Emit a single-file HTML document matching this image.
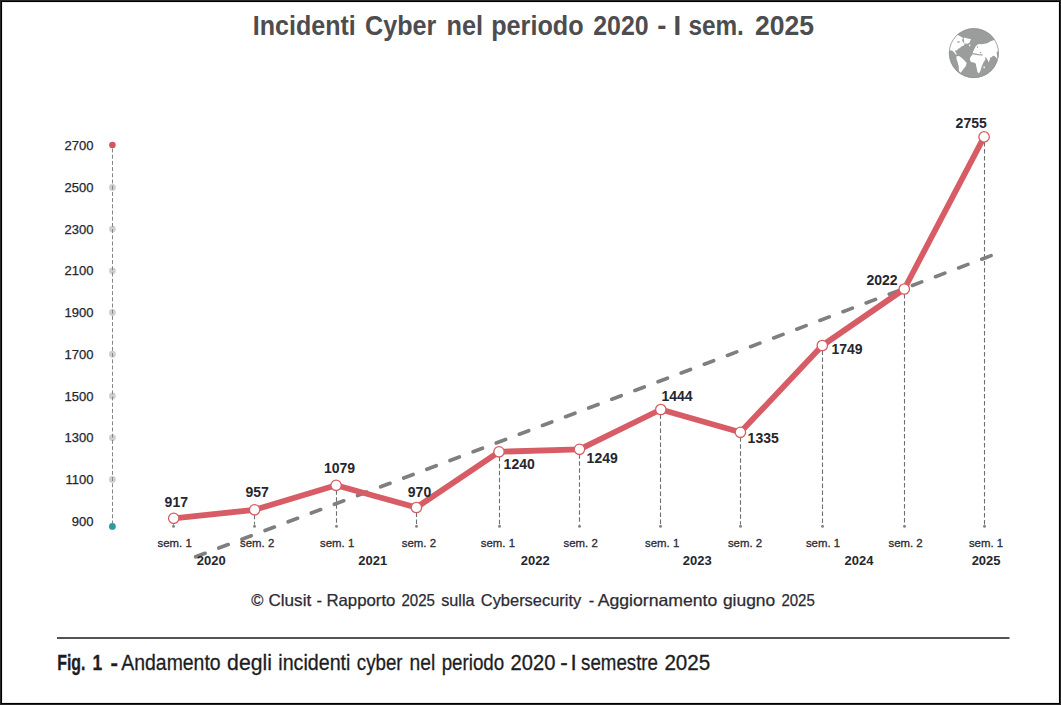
<!DOCTYPE html>
<html lang="it"><head><meta charset="utf-8"><title>Incidenti Cyber nel periodo 2020 - I sem. 2025</title>
<style>html,body{margin:0;padding:0;background:#fff}body{width:1061px;height:705px;overflow:hidden}svg{display:block}text{font-family:"Liberation Sans",Arial,sans-serif}</style></head><body>
<svg width="1061" height="705" viewBox="0 0 1061 705">
<rect x="0" y="0" width="1061" height="705" fill="#fff"/>
<rect x="2.5" y="2.5" width="1056" height="700" fill="none" stroke="#ececec" stroke-width="1"/>
<rect x="1.5" y="1.5" width="1058" height="702" fill="none" stroke="#000" stroke-width="1"/>
<rect x="0.5" y="0.5" width="1060" height="704" fill="none" stroke="#262626" stroke-width="1"/>
<text y="35.3" font-size="27.5" fill="#4d4d4f" font-weight="bold"><tspan x="252.8" textLength="103.0" lengthAdjust="spacingAndGlyphs">Incidenti</tspan> <tspan x="365.1" textLength="71.3" lengthAdjust="spacingAndGlyphs">Cyber</tspan> <tspan x="446.5" textLength="36.5" lengthAdjust="spacingAndGlyphs">nel</tspan> <tspan x="491.2" textLength="92.4" lengthAdjust="spacingAndGlyphs">periodo</tspan> <tspan x="593.2" textLength="55.4" lengthAdjust="spacingAndGlyphs">2020</tspan> <tspan x="657.3">-</tspan> <tspan x="673.6">I</tspan> <tspan x="688.4" textLength="55.5" lengthAdjust="spacingAndGlyphs">sem.</tspan> <tspan x="754.9" textLength="59.1" lengthAdjust="spacingAndGlyphs">2025</tspan></text>
<g id="globe"><defs><clipPath id="gc"><circle cx="362.5" cy="353.5" r="291"/></clipPath></defs>
<g transform="translate(943,23) scale(0.085106)">
<circle cx="362.5" cy="353.5" r="292" fill="#9b9c9c"/>
<g clip-path="url(#gc)" fill="#fff">
<path d="M60,140 L175,140 L208,158 L238,180 L222,200 L236,225 L256,250 L240,268 L220,272 L205,288 L188,300 L172,306 L166,326 L152,318 L141,328 L152,350 L166,372 L150,370 L126,342 L106,322 L60,325 Z"/>
<path d="M243,170 L330,190 L310,232 L288,244 L249,242 Z"/>
<circle cx="314" cy="263" r="9"/>
<path d="M160,388 L195,392 L225,415 L255,445 L278,470 L268,505 L240,540 L215,575 L200,585 L188,560 L185,510 L172,460 L158,420 Z"/>
<path d="M350,345 L365,310 L383,275 L400,258 L419,246 L455,250 L520,238 L560,215 L610,198 L700,190 L700,440 L640,430 L625,405 L605,388 L587,385 L572,402 L557,402 L548,435 L538,465 L525,435 L510,410 L490,400 L500,425 L475,465 L455,510 L440,560 L422,592 L405,575 L395,530 L385,480 L365,465 L335,462 L318,440 L315,415 L330,390 L350,368 Z"/>
<ellipse cx="483" cy="520" rx="7" ry="15"/>
</g>
<g clip-path="url(#gc)" fill="#9b9c9c" stroke="none">
<ellipse cx="182" cy="224" rx="17" ry="9"/>
<path d="M350,352 L385,358 L420,368 L460,368 L472,378 L455,382 L415,380 L380,372 L352,366 Z"/>
<ellipse cx="442" cy="348" rx="10" ry="6"/>
<ellipse cx="405" cy="283" rx="7" ry="10"/>
<path d="M630,340 L660,330 L660,420 L640,415 Z"/>
</g>
<circle cx="362.5" cy="353.5" r="289" fill="none" stroke="#8b8c8c" stroke-width="8"/>
</g></g>
<text x="93.5" y="149.8" font-size="13" text-anchor="end" fill="#25252d" stroke="#25252d" stroke-width="0.25">2700</text>
<circle cx="112.4" cy="145" r="3.3" fill="#d45560"/>
<text x="93.5" y="192.0" font-size="13" text-anchor="end" fill="#25252d" stroke="#25252d" stroke-width="0.25">2500</text>
<circle cx="112.4" cy="187.4" r="3.4" fill="#cfcfcf"/>
<text x="93.5" y="233.7" font-size="13" text-anchor="end" fill="#25252d" stroke="#25252d" stroke-width="0.25">2300</text>
<circle cx="112.4" cy="229.1" r="3.4" fill="#cfcfcf"/>
<text x="93.5" y="275.4" font-size="13" text-anchor="end" fill="#25252d" stroke="#25252d" stroke-width="0.25">2100</text>
<circle cx="112.4" cy="270.8" r="3.4" fill="#cfcfcf"/>
<text x="93.5" y="317.1" font-size="13" text-anchor="end" fill="#25252d" stroke="#25252d" stroke-width="0.25">1900</text>
<circle cx="112.4" cy="312.5" r="3.4" fill="#cfcfcf"/>
<text x="93.5" y="358.9" font-size="13" text-anchor="end" fill="#25252d" stroke="#25252d" stroke-width="0.25">1700</text>
<circle cx="112.4" cy="354.2" r="3.4" fill="#cfcfcf"/>
<text x="93.5" y="400.6" font-size="13" text-anchor="end" fill="#25252d" stroke="#25252d" stroke-width="0.25">1500</text>
<circle cx="112.4" cy="396.0" r="3.4" fill="#cfcfcf"/>
<text x="93.5" y="442.3" font-size="13" text-anchor="end" fill="#25252d" stroke="#25252d" stroke-width="0.25">1300</text>
<circle cx="112.4" cy="437.7" r="3.4" fill="#cfcfcf"/>
<text x="93.5" y="484.0" font-size="13" text-anchor="end" fill="#25252d" stroke="#25252d" stroke-width="0.25">1100</text>
<circle cx="112.4" cy="479.4" r="3.4" fill="#cfcfcf"/>
<text x="93.5" y="525.7" font-size="13" text-anchor="end" fill="#25252d" stroke="#25252d" stroke-width="0.25">900</text>
<circle cx="112.4" cy="526.4" r="3.4" fill="#2d9aa6"/>
<line x1="112.5" y1="148.5" x2="112.5" y2="523" stroke="#858585" stroke-width="1" stroke-dasharray="4 2.2"/>
<line x1="173.5" y1="523.3" x2="173.5" y2="524.5" stroke="#6e6e6e" stroke-width="1.1" stroke-dasharray="4.5 2.5"/>
<circle cx="173.5" cy="526.3" r="1.5" fill="#858585"/>
<line x1="254.5" y1="514.8" x2="254.5" y2="524.5" stroke="#6e6e6e" stroke-width="1.1" stroke-dasharray="4.5 2.5"/>
<circle cx="254.5" cy="526.3" r="1.5" fill="#858585"/>
<line x1="336.5" y1="490.3" x2="336.5" y2="524.5" stroke="#6e6e6e" stroke-width="1.1" stroke-dasharray="4.5 2.5"/>
<circle cx="336.5" cy="526.3" r="1.5" fill="#858585"/>
<line x1="416.5" y1="512.5" x2="416.5" y2="524.5" stroke="#6e6e6e" stroke-width="1.1" stroke-dasharray="4.5 2.5"/>
<circle cx="416.5" cy="526.3" r="1.5" fill="#858585"/>
<line x1="499.5" y1="456.8" x2="499.5" y2="524.5" stroke="#6e6e6e" stroke-width="1.1" stroke-dasharray="4.5 2.5"/>
<circle cx="499.5" cy="526.3" r="1.5" fill="#858585"/>
<line x1="579.5" y1="454.3" x2="579.5" y2="524.5" stroke="#6e6e6e" stroke-width="1.1" stroke-dasharray="4.5 2.5"/>
<circle cx="579.5" cy="526.3" r="1.5" fill="#858585"/>
<line x1="660.5" y1="414.5" x2="660.5" y2="524.5" stroke="#6e6e6e" stroke-width="1.1" stroke-dasharray="4.5 2.5"/>
<circle cx="660.5" cy="526.3" r="1.5" fill="#858585"/>
<line x1="740.5" y1="437.3" x2="740.5" y2="524.5" stroke="#6e6e6e" stroke-width="1.1" stroke-dasharray="4.5 2.5"/>
<circle cx="740.5" cy="526.3" r="1.5" fill="#858585"/>
<line x1="822.5" y1="350.5" x2="822.5" y2="524.5" stroke="#6e6e6e" stroke-width="1.1" stroke-dasharray="4.5 2.5"/>
<circle cx="822.5" cy="526.3" r="1.5" fill="#858585"/>
<line x1="904.5" y1="294.0" x2="904.5" y2="524.5" stroke="#6e6e6e" stroke-width="1.1" stroke-dasharray="4.5 2.5"/>
<circle cx="904.5" cy="526.3" r="1.5" fill="#858585"/>
<line x1="984.5" y1="141.9" x2="984.5" y2="524.5" stroke="#6e6e6e" stroke-width="1.1" stroke-dasharray="4.5 2.5"/>
<circle cx="984.5" cy="526.3" r="1.5" fill="#858585"/>
<line x1="195.7" y1="556.8" x2="991.5" y2="255.5" stroke="#7f7f7f" stroke-width="3.6" stroke-linecap="round" stroke-dasharray="10 14.72"/>
<polyline points="173.7,518.3 254.6,509.8 336.1,485.3 416.4,507.5 499.0,451.8 579.5,449.3 660.8,409.5 740.4,432.3 822.3,345.5 904.3,289.0 984.1,136.9" fill="none" stroke="#d75c65" stroke-width="5.8" stroke-linejoin="round" stroke-linecap="round"/>
<circle cx="173.7" cy="518.3" r="5.2" fill="#fff" stroke="#d75c65" stroke-width="1.3"/>
<circle cx="254.6" cy="509.8" r="5.2" fill="#fff" stroke="#d75c65" stroke-width="1.3"/>
<circle cx="336.1" cy="485.3" r="5.2" fill="#fff" stroke="#d75c65" stroke-width="1.3"/>
<circle cx="416.4" cy="507.5" r="5.2" fill="#fff" stroke="#d75c65" stroke-width="1.3"/>
<circle cx="499.0" cy="451.8" r="5.2" fill="#fff" stroke="#d75c65" stroke-width="1.3"/>
<circle cx="579.5" cy="449.3" r="5.2" fill="#fff" stroke="#d75c65" stroke-width="1.3"/>
<circle cx="660.8" cy="409.5" r="5.2" fill="#fff" stroke="#d75c65" stroke-width="1.3"/>
<circle cx="740.4" cy="432.3" r="5.2" fill="#fff" stroke="#d75c65" stroke-width="1.3"/>
<circle cx="822.3" cy="345.5" r="5.2" fill="#fff" stroke="#d75c65" stroke-width="1.3"/>
<circle cx="904.3" cy="289.0" r="5.2" fill="#fff" stroke="#d75c65" stroke-width="1.3"/>
<circle cx="984.1" cy="136.9" r="5.2" fill="#fff" stroke="#d75c65" stroke-width="1.3"/>
<text x="176.3" y="506.5" font-size="14" font-weight="bold" text-anchor="middle" fill="#26262e">917</text>
<text x="257.2" y="497.4" font-size="14" font-weight="bold" text-anchor="middle" fill="#26262e">957</text>
<text x="339.6" y="473.3" font-size="14" font-weight="bold" text-anchor="middle" fill="#26262e">1079</text>
<text x="419.5" y="496.8" font-size="14" font-weight="bold" text-anchor="middle" fill="#26262e">970</text>
<text x="503.6" y="469.4" font-size="14" font-weight="bold" text-anchor="start" fill="#26262e">1240</text>
<text x="586.6" y="463.3" font-size="14" font-weight="bold" text-anchor="start" fill="#26262e">1249</text>
<text x="661.5" y="401.0" font-size="14" font-weight="bold" text-anchor="start" fill="#26262e">1444</text>
<text x="747.6" y="442.9" font-size="14" font-weight="bold" text-anchor="start" fill="#26262e">1335</text>
<text x="831.5" y="354.0" font-size="14" font-weight="bold" text-anchor="start" fill="#26262e">1749</text>
<text x="897.6" y="285.0" font-size="14" font-weight="bold" text-anchor="end" fill="#26262e">2022</text>
<text x="971.2" y="127.9" font-size="14" font-weight="bold" text-anchor="middle" fill="#26262e">2755</text>
<text x="174.7" y="547.3" font-size="11.4" text-anchor="middle" fill="#2b2b33" stroke="#2b2b33" stroke-width="0.3">sem. 1</text>
<text x="257.2" y="547.3" font-size="11.4" text-anchor="middle" fill="#2b2b33" stroke="#2b2b33" stroke-width="0.3">sem. 2</text>
<text x="337.2" y="547.3" font-size="11.4" text-anchor="middle" fill="#2b2b33" stroke="#2b2b33" stroke-width="0.3">sem. 1</text>
<text x="418.9" y="547.3" font-size="11.4" text-anchor="middle" fill="#2b2b33" stroke="#2b2b33" stroke-width="0.3">sem. 2</text>
<text x="497.9" y="547.3" font-size="11.4" text-anchor="middle" fill="#2b2b33" stroke="#2b2b33" stroke-width="0.3">sem. 1</text>
<text x="580.7" y="547.3" font-size="11.4" text-anchor="middle" fill="#2b2b33" stroke="#2b2b33" stroke-width="0.3">sem. 2</text>
<text x="662.2" y="547.3" font-size="11.4" text-anchor="middle" fill="#2b2b33" stroke="#2b2b33" stroke-width="0.3">sem. 1</text>
<text x="745.0" y="547.3" font-size="11.4" text-anchor="middle" fill="#2b2b33" stroke="#2b2b33" stroke-width="0.3">sem. 2</text>
<text x="823.0" y="547.3" font-size="11.4" text-anchor="middle" fill="#2b2b33" stroke="#2b2b33" stroke-width="0.3">sem. 1</text>
<text x="905.6" y="547.3" font-size="11.4" text-anchor="middle" fill="#2b2b33" stroke="#2b2b33" stroke-width="0.3">sem. 2</text>
<text x="986.0" y="547.3" font-size="11.4" text-anchor="middle" fill="#2b2b33" stroke="#2b2b33" stroke-width="0.3">sem. 1</text>
<text x="211.3" y="565.0" font-size="13" font-weight="bold" text-anchor="middle" fill="#26262e">2020</text>
<text x="372.7" y="565.0" font-size="13" font-weight="bold" text-anchor="middle" fill="#26262e">2021</text>
<text x="535.3" y="565.0" font-size="13" font-weight="bold" text-anchor="middle" fill="#26262e">2022</text>
<text x="697.3" y="565.0" font-size="13" font-weight="bold" text-anchor="middle" fill="#26262e">2023</text>
<text x="858.9" y="565.0" font-size="13" font-weight="bold" text-anchor="middle" fill="#26262e">2024</text>
<text x="986.1" y="565.0" font-size="13" font-weight="bold" text-anchor="middle" fill="#26262e">2025</text>
<text y="605.5" font-size="16.5" fill="#2b2b33" stroke="#2b2b33" stroke-width="0.25"><tspan x="251.2">©</tspan> <tspan x="268.4" textLength="42.8" lengthAdjust="spacingAndGlyphs">Clusit</tspan> <tspan x="316.6">-</tspan> <tspan x="326.4" textLength="69.0" lengthAdjust="spacingAndGlyphs">Rapporto</tspan> <tspan x="401.5" textLength="33.5" lengthAdjust="spacingAndGlyphs">2025</tspan> <tspan x="441.2" textLength="33.4" lengthAdjust="spacingAndGlyphs">sulla</tspan> <tspan x="480.8" textLength="100.4" lengthAdjust="spacingAndGlyphs">Cybersecurity</tspan> <tspan x="588.8">-</tspan> <tspan x="597.7" textLength="119.6" lengthAdjust="spacingAndGlyphs">Aggiornamento</tspan> <tspan x="722.9" textLength="52.3" lengthAdjust="spacingAndGlyphs">giugno</tspan> <tspan x="781.4" textLength="33.4" lengthAdjust="spacingAndGlyphs">2025</tspan></text>
<line x1="57" y1="638" x2="1009.5" y2="638" stroke="#1a1a1a" stroke-width="1.3"/>
<text y="669.6" font-size="22.4" fill="#1d1d1f" stroke="#1d1d1f" stroke-width="0.3"><tspan x="57.2" textLength="28.2" lengthAdjust="spacingAndGlyphs" font-weight="bold">Fig.</tspan> <tspan x="92.4" textLength="9.7" lengthAdjust="spacingAndGlyphs" font-weight="bold">1</tspan> <tspan x="110.4" font-weight="bold">-</tspan> <tspan x="121.3" textLength="99.3" lengthAdjust="spacingAndGlyphs">Andamento</tspan> <tspan x="227.1" textLength="44.8" lengthAdjust="spacingAndGlyphs">degli</tspan> <tspan x="278.3" textLength="72.1" lengthAdjust="spacingAndGlyphs">incidenti</tspan> <tspan x="356.8" textLength="45.8" lengthAdjust="spacingAndGlyphs">cyber</tspan> <tspan x="409.6" textLength="25.7" lengthAdjust="spacingAndGlyphs">nel</tspan> <tspan x="441.7" textLength="62.5" lengthAdjust="spacingAndGlyphs">periodo</tspan> <tspan x="510.6" textLength="44.8" lengthAdjust="spacingAndGlyphs">2020</tspan> <tspan x="560.2">-</tspan> <tspan x="570.4">I</tspan> <tspan x="581.1" textLength="76.9" lengthAdjust="spacingAndGlyphs">semestre</tspan> <tspan x="664.4" textLength="45.8" lengthAdjust="spacingAndGlyphs">2025</tspan></text>
</svg></body></html>
